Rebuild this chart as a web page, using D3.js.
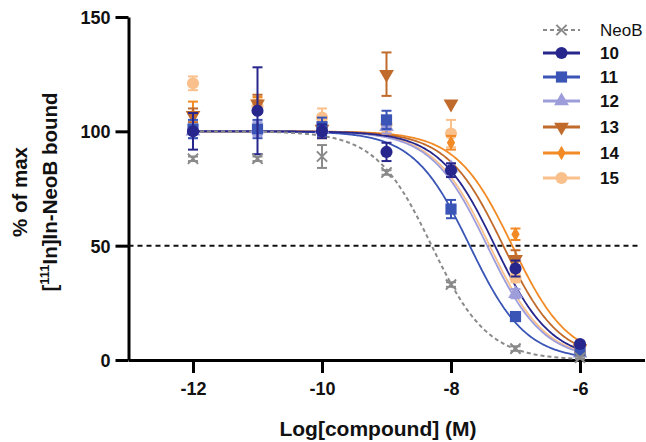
<!DOCTYPE html>
<html>
<head>
<meta charset="utf-8">
<script src="https://cdn.jsdelivr.net/npm/d3@7"></script>
<style>
  body { margin: 0; background: #fff; }
  svg { font-family: "Liberation Sans", Arial, sans-serif; }
</style>
</head>
<body>
<svg id="chart" width="646" height="442"></svg>
<script>
// log10 dose (M)
var doses = [-12, -11, -10, -9, -8, -7, -6];

var names   = ['NeoB', '10', '11', '12', '13', '14', '15'];
var colors  = ['#8a8a8a', '#26268c', '#3a55b5', '#9d9ddb', '#c06a2b', '#f28a25', '#f9c08c'];
var symbols = ['cross', 'circle', 'square', 'triangle', 'triangleDown', 'diamond', 'circle'];

// mean % of max
var valNeoB = [88, 88, 89, 82, 33, 5, 1];
var val10   = [100, 109, 100, 91, 83, 40, 7];
var val11   = [101, 101, 102, 105, 66, 19, 4];
var val12   = [100, 101, 101, 102, 84, 29, 3];
var val13   = [107, 112, 101, 125, 112, 44, 5];
var val14   = [107, 112, 100, 102, 95, 55, 6];
var val15   = [121, 111, 106, 103, 99, 36, 4];

// SEM
var errNeoB = [1, 1, 5, 1, 1, 1, 0.5];
var err10   = [8, 19, 3, 4, 3, 3.5, 1];
var err11   = [4, 4, 4, 4, 4, 1.5, 1];
var err12   = [3, 3, 3, 3, 2, 2, 1];
var err13   = [3, 4, 3, 9.5, 0, 4, 1];
var err14   = [6, 3, 3, 3, 3, 2.5, 1];
var err15   = [3, 3, 4, 3, 6, 2, 1];

// fitted log IC50 (one-site competition, top 100, bottom 0)
var logIC50 = [-8.3, -7.32, -7.71, -7.44, -7.19, -7.05, -7.40];

var xTicks = [-12, -10, -8, -6];
var yTicks = [0, 50, 100, 150];

var values = [valNeoB, val10, val11, val12, val13, val14, val15];
var errors = [errNeoB, err10, err11, err12, err13, err14, err15];

var series = names.map(function(n, i) {
  return {
    name: n, color: colors[i], symbol: symbols[i], ic50: logIC50[i],
    points: doses.map(function(d, j) { return {x: d, y: values[i][j], e: errors[i][j]}; })
  };
});

var svg = d3.select('#chart');

var x = d3.scaleLinear().domain([-13, -5]).range([128.5, 644.5]);
var y = d3.scaleLinear().domain([0, 150]).range([360, 17]);

// axes
var yAxis = svg.append('g')
  .attr('transform', 'translate(' + x(-13) + ',0)')
  .call(d3.axisLeft(y).tickValues(yTicks).tickSize(13).tickSizeOuter(0).tickPadding(5));

var xAxis = svg.append('g')
  .attr('transform', 'translate(0,' + y(0) + ')')
  .call(d3.axisBottom(x).tickValues(xTicks).tickSize(13).tickSizeOuter(0).tickPadding(9)
    .tickFormat(function(d) { return String(d); }));

[xAxis, yAxis].forEach(function(a) {
  a.selectAll('path, line').attr('stroke', '#000').attr('stroke-width', 3);
  a.selectAll('text')
    .attr('fill', '#111')
    .style('font-size', '18px')
    .style('font-weight', 'bold');
});
yAxis.selectAll('text').attr('dy', '0.36em');

// 50% reference line
svg.append('line')
  .attr('x1', x(-13)).attr('x2', x(-5.07))
  .attr('y1', y(50)).attr('y2', y(50))
  .attr('stroke', '#111')
  .attr('stroke-width', 2)
  .attr('stroke-dasharray', '5,4');

// axis titles
svg.append('text')
  .attr('x', 378).attr('y', 436)
  .attr('text-anchor', 'middle')
  .style('font-size', '21px').style('font-weight', 'bold')
  .attr('fill', '#111')
  .text('Log[compound] (M)');

var yt = svg.append('g').attr('transform', 'translate(0,192) rotate(-90)');
yt.append('text')
  .attr('x', 0).attr('y', 27)
  .attr('text-anchor', 'middle')
  .style('font-size', '20.5px').style('font-weight', 'bold')
  .attr('fill', '#111')
  .text('% of max');
var yt2 = yt.append('text')
  .attr('x', 0).attr('y', 57)
  .attr('text-anchor', 'middle')
  .style('font-size', '20.5px').style('font-weight', 'bold')
  .attr('fill', '#111');
yt2.append('tspan').text('[');
yt2.append('tspan').attr('dy', -8).style('font-size', '13px').text('111');
yt2.append('tspan').attr('dy', 8).text('In]In-NeoB bound');

// symbol helpers
function symbolPath(kind, size) {
  var t = {
    circle: d3.symbolCircle, square: d3.symbolSquare, triangle: d3.symbolTriangle,
    diamond: d3.symbolDiamond, cross: d3.symbolX
  };
  if (kind === 'triangleDown') return d3.symbol(d3.symbolTriangle, size)();
  return d3.symbol(t[kind], size)();
}
var symSize = {cross: 70, circle: 115, square: 125, triangle: 95, triangleDown: 95, diamond: 60};

function drawMarker(g, s, cx, cy) {
  var p = g.append('path')
    .attr('d', symbolPath(s.symbol, symSize[s.symbol]))
    .attr('transform', 'translate(' + cx + ',' + cy + ')' + (s.symbol === 'triangleDown' ? ' rotate(180)' : ''));
  if (s.symbol === 'cross') {
    p.attr('fill', 'none').attr('stroke', s.color).attr('stroke-width', 2);
  } else {
    p.attr('fill', s.color);
  }
}

// fitted curves
var curveX = d3.range(-12, -5.99, 0.02);
var line = d3.line().x(function(d) { return x(d[0]); }).y(function(d) { return y(d[1]); });
var plotOrder = series.slice().reverse();

plotOrder.forEach(function(s) {
  var pts = curveX.map(function(lx) { return [lx, 100 / (1 + Math.pow(10, lx - s.ic50))]; });
  svg.append('path')
    .datum(pts)
    .attr('d', line)
    .attr('fill', 'none')
    .attr('stroke', s.color)
    .attr('stroke-width', s.name === 'NeoB' ? 2 : 1.8)
    .attr('stroke-dasharray', s.name === 'NeoB' ? '4,3' : null);
});

// error bars + markers
plotOrder.forEach(function(s) {
  var g = svg.append('g');
  s.points.forEach(function(p) {
    var cx = x(p.x);
    if (p.e > 0) {
      var y1 = y(p.y + p.e), y2 = y(p.y - p.e);
      g.append('line').attr('x1', cx).attr('x2', cx).attr('y1', y1).attr('y2', y2)
        .attr('stroke', s.color).attr('stroke-width', 2);
      [y1, y2].forEach(function(yy) {
        g.append('line').attr('x1', cx - 5).attr('x2', cx + 5).attr('y1', yy).attr('y2', yy)
          .attr('stroke', s.color).attr('stroke-width', 2);
      });
    }
    drawMarker(g, s, cx, y(p.y));
  });
});

// legend
var legRowY = [30, 53, 77, 101, 127, 153, 178];
var leg = svg.append('g');
series.forEach(function(s, i) {
  var ly = legRowY[i];
  leg.append('line')
    .attr('x1', 543).attr('x2', 580).attr('y1', ly).attr('y2', ly)
    .attr('stroke', s.color)
    .attr('stroke-width', s.name === 'NeoB' ? 2 : 3)
    .attr('stroke-dasharray', s.name === 'NeoB' ? '4,3' : null);
  drawMarker(leg, s, 561.5, ly);
  leg.append('text')
    .attr('x', 600).attr('y', ly + 6)
    .style('font-size', '17px')
    .style('font-weight', s.name === 'NeoB' ? 'normal' : 'bold')
    .attr('fill', '#111')
    .text(s.name);
});
</script>
</body>
</html>
